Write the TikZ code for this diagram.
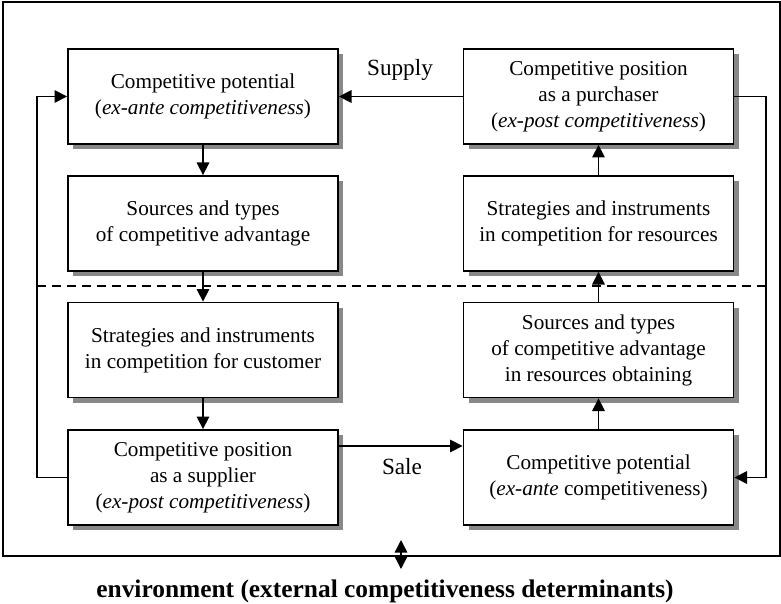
\documentclass[tikz,border=0pt]{standalone}
\usepackage{fontspec}
\setmainfont{Liberation Serif}
\definecolor{ShadowGray}{RGB}{136, 136, 136}
\usepackage{tikz}
\usetikzlibrary{arrows.meta, shadows}

\begin{document}
\begin{tikzpicture}[x=0.5pt, y=-0.5pt,
        box/.style={draw, line width=0.9pt, fill=white, align=center,
            minimum width=135pt, minimum height=47.5pt, inner sep=0pt,
            font=\fontsize{10.6}{13}\selectfont,
            drop shadow={shadow xshift=2.5pt, shadow yshift=-2.5pt, fill=ShadowGray, opacity=1}},
        link/.style={line width=0.7pt, -{Triangle[length=6.3pt, width=6.3pt]}},
        flowlabel/.style={font=\fontsize{11.6}{13}\selectfont}]
        \useasboundingbox (0,0) rectangle (781,604);

        % Outer frame
        \draw[line width=0.8pt] (3,2) rectangle (780,556);

        % Left column: supplier side
        \node[box] (pot) at (203,96.5) {Competitive potential\\(\textit{ex-ante competitiveness})};
        \node[box] (src) at (203,223.5) {Sources and types\\of competitive advantage};
        \node[box] (cust) at (203,350) {Strategies and instruments\\in competition for customer};
        \node[box] (supplier) at (203,477.5) {Competitive position\\as a supplier\\(\textit{ex-post competitiveness})};

        % Right column: purchaser side
        \node[box] (purchaser) at (598.5,96.5) {Competitive position\\as a purchaser\\(\textit{ex-post competitiveness})};
        \node[box] (res) at (598.5,223.5) {Strategies and instruments\\in competition for resources};
        \node[box] (obtain) at (598.5,350) {Sources and types\\of competitive advantage\\in resources obtaining};
        \node[box] (rpot) at (598.5,477.5) {Competitive potential\\(\textit{ex-ante} competitiveness)};

        % Feedback lines and dashed divider
        \coordinate (lft) at (37,286);
        \coordinate (rgt) at (766,286);
        \draw[line width=0.7pt, dash pattern=on 4.5pt off 3pt] (lft) -- (rgt);

        % Vertical flows
        \draw[link] (pot) -- (src);
        \draw[link] (src) -- (cust);
        \draw[link] (cust) -- (supplier);
        \draw[link] (rpot) -- (obtain);
        \draw[link] (obtain) -- (res);
        \draw[link] (res) -- (purchaser);

        % Supply and sale
        \draw[link] (purchaser.west) -- (pot.east);
        \node[flowlabel] (supply) at (400,70) {Supply};
        \draw[link] ([yshift=15.75pt]supplier.east) -- ([yshift=15.75pt]rpot.west);
        \node[flowlabel] (sale) at (402,467) {Sale};

        \draw[link] (supplier.west) -- (supplier.west -| lft) -- (pot.west -| lft) -- (pot.west);
        \draw[link] (purchaser.east) -- (purchaser.east -| rgt) -- (rpot.east -| rgt) -- (rpot.east);

        % Environment
        \node[font=\fontsize{12.7}{14}\selectfont\bfseries] (env) at (385,591) {environment (external competitiveness determinants)};
        \coordinate (envtop) at (401,540);
        \coordinate (envbot) at (401,569);
        \draw[line width=0.7pt, {Triangle[length=6.3pt, width=6.3pt]}-{Triangle[length=6.3pt, width=6.3pt]}] (envtop) -- (envbot);
\end{tikzpicture}
\end{document}
